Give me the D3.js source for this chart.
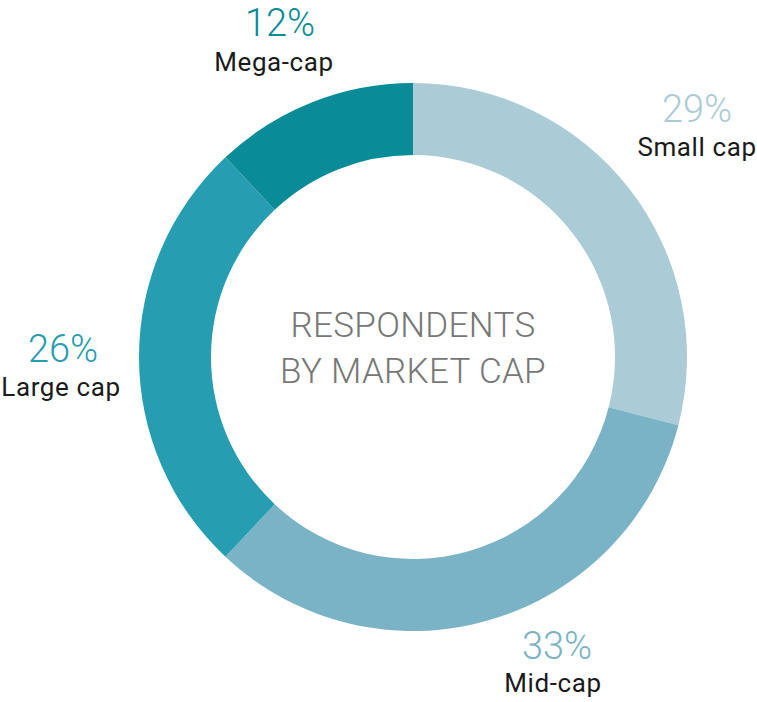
<!DOCTYPE html>
<html>
<head>
<meta charset="utf-8">
<script src="https://cdn.jsdelivr.net/npm/d3@7"></script>
<style>
  html, body { margin: 0; padding: 0; background: #fff; }
  svg { display: block; }
</style>
</head>
<body>
<svg id="chart" width="757" height="702"></svg>
<script>
// ---- data ----
const categories = ["Small cap", "Mid-cap", "Large cap", "Mega-cap"];
const values = [29, 33, 26, 12];
const colors = ["#abcbd6", "#7ab3c5", "#279db1", "#0a8b98"];
const centerLines = ["RESPONDENTS", "BY MARKET CAP"];

// ---- layout (positions of labels, not data) ----
const cx = 413, cy = 357, outerR = 274, innerR = 202;
const labelPos = [
  { pctX: 697, pctY: 122, nameX: 697, nameY: 156 },
  { pctX: 557, pctY: 659, nameX: 553, nameY: 692 },
  { pctX: 63,  pctY: 362, nameX: 61,  nameY: 396 },
  { pctX: 280, pctY: 36,  nameX: 274, nameY: 71 }
];

const svg = d3.select("#chart");
const g = svg.append("g").attr("transform", `translate(${cx},${cy})`);

const data = categories.map((c, i) => ({ name: c, value: values[i], color: colors[i] }));
const pie = d3.pie().value(d => d.value).sort(null);
const arc = d3.arc().innerRadius(innerR).outerRadius(outerR);

g.selectAll("path.slice")
  .data(pie(data))
  .join("path")
  .attr("class", "slice")
  .attr("d", arc)
  .attr("fill", d => d.data.color);

// center title
svg.append("text")
  .attr("x", cx)
  .attr("text-anchor", "middle")
  .attr("font-family", "Roboto, sans-serif")
  .attr("font-weight", 300)
  .attr("font-size", 35)
  .attr("letter-spacing", 0.3)
  .attr("fill", "#777777")
  .selectAll("tspan")
  .data(centerLines)
  .join("tspan")
  .attr("x", cx)
  .attr("y", (d, i) => 337 + i * 46)
  .text(d => d);

// labels
data.forEach((d, i) => {
  const p = labelPos[i];
  svg.append("text")
    .attr("x", p.pctX).attr("y", p.pctY)
    .attr("text-anchor", "middle")
    .attr("font-family", "Roboto, sans-serif")
    .attr("font-weight", 300)
    .attr("font-size", 38)
    .attr("fill", d.color)
    .text(d.value + "%");
  svg.append("text")
    .attr("x", p.nameX).attr("y", p.nameY)
    .attr("text-anchor", "middle")
    .attr("font-family", "Roboto, sans-serif")
    .attr("font-weight", 400)
    .attr("font-size", 26)
    .attr("letter-spacing", 0.6)
    .attr("fill", "#1a1a1a")
    .text(d.name);
});
</script>
</body>
</html>
